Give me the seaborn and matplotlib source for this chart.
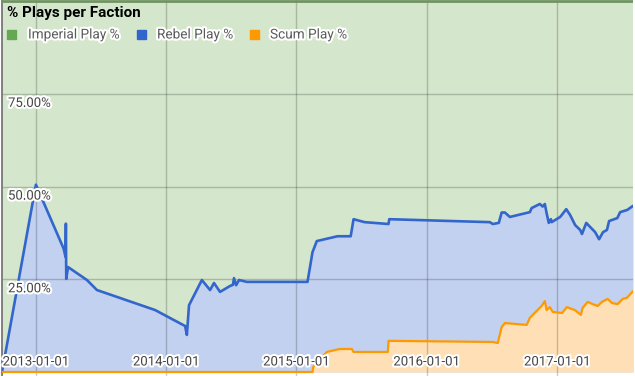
import matplotlib
matplotlib.use("Agg")
import matplotlib.pyplot as plt
import matplotlib.dates as mdates
import matplotlib.patheffects as pe
from matplotlib.patches import Rectangle
import matplotlib.transforms as mtrans
import pandas as pd
import seaborn as sns

# ---------------- data ----------------
title = "% Plays per Faction"
series_names = ["Imperial Play %", "Rebel Play %", "Scum Play %"]

imperial_dates = ["2012-09-28", "2017-08-01"]
imperial_pct = [100.0, 100.0]

rebel_dates = [
    "2012-09-28", "2013-01-01", "2013-03-20", "2013-03-25", "2013-03-26", "2013-03-27",
    "2013-04-01", "2013-05-24", "2013-06-21", "2013-12-01", "2014-02-23", "2014-02-28",
    "2014-03-06", "2014-04-11", "2014-05-04", "2014-05-15", "2014-06-01", "2014-06-29",
    "2014-07-07", "2014-07-10", "2014-07-16", "2014-07-24", "2014-08-15", "2015-02-01",
    "2015-02-15", "2015-02-27", "2015-04-26", "2015-06-02", "2015-06-10", "2015-07-11",
    "2015-09-16", "2015-09-18", "2016-06-26", "2016-07-04", "2016-07-21", "2016-07-29",
    "2016-08-07", "2016-08-21", "2016-10-16", "2016-10-21", "2016-11-13", "2016-11-21",
    "2016-11-27", "2016-12-02", "2016-12-08", "2016-12-14", "2016-12-16", "2017-01-09",
    "2017-01-26", "2017-02-06", "2017-02-20", "2017-03-06", "2017-03-11", "2017-03-23",
    "2017-04-03", "2017-04-17", "2017-04-28", "2017-05-09", "2017-05-20", "2017-05-26",
    "2017-06-18", "2017-06-26", "2017-07-16", "2017-08-01",
]
rebel_pct = [
    0.0, 50.5, 33.2, 31.0, 40.0, 25.1,
    28.3, 24.8, 22.1, 16.7, 12.4, 10.0,
    18.0, 24.8, 22.1, 24.0, 21.6, 23.2,
    23.5, 25.3, 23.4, 24.8, 24.3, 24.3,
    32.3, 35.3, 36.6, 36.6, 41.2, 40.4,
    39.9, 41.2, 40.4, 39.9, 40.2, 43.0,
    43.0, 41.8, 43.1, 44.2, 45.3, 44.6,
    45.3, 42.8, 40.2, 41.2, 40.4, 41.8,
    43.9, 42.3, 39.6, 38.3, 37.2, 40.2,
    39.1, 37.7, 35.8, 37.7, 38.3, 40.7,
    41.5, 43.1, 43.7, 44.8,
]

scum_dates = [
    "2012-09-28", "2015-02-15", "2015-02-17", "2015-03-27", "2015-05-02", "2015-06-05",
    "2015-06-10", "2015-09-14", "2015-09-16", "2016-07-04", "2016-07-18", "2016-07-29",
    "2016-08-07", "2016-10-07", "2016-10-16", "2016-10-24", "2016-11-18", "2016-11-27",
    "2016-12-02", "2016-12-11", "2016-12-19", "2017-01-14", "2017-01-28", "2017-02-10",
    "2017-02-19", "2017-03-08", "2017-03-13", "2017-03-27", "2017-04-10", "2017-04-24",
    "2017-05-06", "2017-05-22", "2017-06-03", "2017-06-19", "2017-07-03", "2017-07-15",
    "2017-08-01",
]
scum_pct = [
    0.0, 0.0, 1.3, 5.4, 6.2, 6.2,
    5.4, 5.4, 8.4, 8.1, 7.8, 12.1,
    13.2, 12.7, 14.6, 15.4, 17.8, 19.1,
    16.7, 17.5, 16.2, 15.9, 17.5, 17.0,
    16.7, 15.4, 17.3, 18.9, 18.3, 17.8,
    18.9, 19.7, 18.6, 18.3, 19.7, 20.0,
    21.8,
]

y_ticks = [25, 50, 75]
y_tick_labels = ["25.00%", "50.00%", "75.00%"]
x_ticks = ["2013-01-01", "2014-01-01", "2015-01-01", "2016-01-01", "2017-01-01"]
x_range = ["2012-09-28", "2017-08-01"]

# ---------------- style ----------------
sns.set_theme(style="white")
plt.rcParams["font.family"] = ["Roboto", "DejaVu Sans"]

line_colors = ["#6f9460", "#3366cc", "#ff9900"]
legend_colors = ["#64a854", "#3366cc", "#ff9900"]
fill_colors = ["#d4e6cb", "#c2d1f0", "#ffdfb5"]

W, H = 635, 376
fig = plt.figure(figsize=(W / 100, H / 100), dpi=100)
ax = fig.add_axes([2 / W, 0, 631 / W, 1])
ax.set_facecolor("white")

imp = pd.DataFrame({"date": pd.to_datetime(imperial_dates), "pct": imperial_pct})
reb = pd.DataFrame({"date": pd.to_datetime(rebel_dates), "pct": rebel_pct})
scu = pd.DataFrame({"date": pd.to_datetime(scum_dates), "pct": scum_pct})

for df, fc in zip([imp, reb, scu], fill_colors):
    ax.fill_between(df["date"], 0, df["pct"], color=fc, lw=0, zorder=1)

# gridlines on top of fills (translucent, like the original)
grid_kw = dict(color="black", alpha=0.2, lw=1, zorder=2)
for v in y_ticks:
    ax.axhline(v, **grid_kw)
for d in x_ticks:
    ax.axvline(pd.Timestamp(d), **grid_kw)

sns.lineplot(data=imp, x="date", y="pct", color=line_colors[0], lw=2.0, ax=ax, zorder=3)
sns.lineplot(data=reb, x="date", y="pct", color=line_colors[1], lw=1.9, ax=ax, zorder=4)
sns.lineplot(data=scu, x="date", y="pct", color=line_colors[2], lw=1.6, ax=ax, zorder=5)

ax.set_xlim(pd.Timestamp(x_range[0]), pd.Timestamp(x_range[1]))
ax.set_ylim(-1.08, 100.3)
ax.set_xticks([])
ax.set_yticks([])
ax.set_xlabel("")
ax.set_ylabel("")
for s in ["top", "right", "bottom"]:
    ax.spines[s].set_visible(False)
ax.spines["left"].set_color("#777777")
ax.spines["left"].set_linewidth(1.3)

halo = [pe.withStroke(linewidth=3, foreground="white")]
lbl_kw = dict(fontsize=9.5, color="#444444", path_effects=halo, zorder=10)

# y tick labels inside the plot, just below gridlines
ytr = mtrans.blended_transform_factory(ax.transAxes, ax.transData)
for v, t in zip(y_ticks, y_tick_labels):
    ax.annotate(t, xy=(6 / 631, v), xycoords=ytr, xytext=(0, -3),
                textcoords="offset pixels", ha="left", va="top", **lbl_kw)

# x tick labels inside the plot, near the bottom
xtr = mtrans.blended_transform_factory(ax.transData, ax.transAxes)
for d in x_ticks:
    ax.text(mdates.date2num(pd.Timestamp(d)), 1 - 362 / H, d, transform=xtr,
            ha="center", va="center", **lbl_kw)

# title
fig.text(7 / W, 1 - 13 / H, title, fontsize=11, fontweight="bold", color="black",
         ha="left", va="center")

# legend
leg_sq_x = [7, 137, 250]
leg_tx_x = [28, 157, 270]
for name, c, sx, tx in zip(series_names, legend_colors, leg_sq_x, leg_tx_x):
    fig.patches.append(Rectangle((sx / W, 1 - 39 / H), 9 / W, 9 / H, color=c,
                                 transform=fig.transFigure, figure=fig))
    fig.text(tx / W, 1 - 34.5 / H, name, fontsize=9.8, color="#5a5a5a",
             ha="left", va="center", path_effects=halo)

fig.savefig("out.png", dpi=100)
